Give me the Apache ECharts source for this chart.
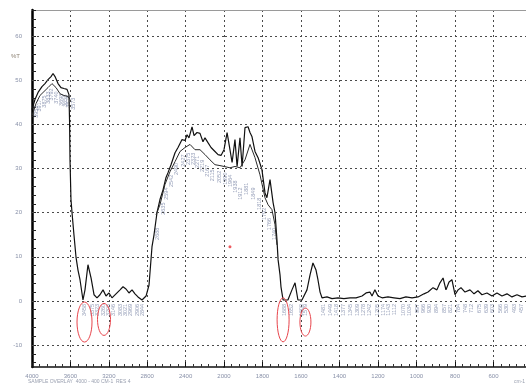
<!DOCTYPE html>
<html>
<head>
<meta charset="utf-8">
<script src="https://cdn.jsdelivr.net/npm/echarts@6/dist/echarts.min.js"></script>
<style>
  html, body { margin: 0; padding: 0; background: #fff; }
  #chart { width: 526px; height: 386px; }
</style>
</head>
<body>
<div id="chart"></div>
<script>
// Overlaid IR spectra, wavenumber (cm-1) against %T.
// The wavenumber scale changes at 2000 cm-1, so the plot is built from two grids.

// y tick labels (%T)
const yTicks = [-10, 0, 10, 20, 30, 40, 50, 60];

// main spectrum
const specWn = [
  4000, 3969, 3937, 3896, 3865, 3833, 3802, 3781, 3760, 3729,
  3698, 3667, 3635, 3615, 3609, 3604, 3594, 3583, 3563, 3542,
  3521, 3500, 3469, 3448, 3417, 3385, 3354, 3323, 3292, 3260,
  3229, 3198, 3167, 3125, 3083, 3052, 3021, 2990, 2958, 2927,
  2896, 2854, 2812, 2781, 2750, 2729, 2698, 2667, 2635, 2604,
  2583, 2552, 2510, 2479, 2437, 2406, 2385, 2365, 2333, 2312,
  2281, 2250, 2219, 2198, 2167, 2135, 2094, 2062, 2031, 2000,
  1984, 1969, 1958, 1943, 1932, 1917, 1906, 1891, 1875, 1865,
  1855, 1839, 1823, 1803, 1787, 1777, 1761, 1745, 1735, 1725,
  1719, 1709, 1704, 1693, 1668, 1647, 1631, 1616, 1595, 1569,
  1553, 1538, 1522, 1512, 1501, 1491, 1465, 1439, 1408, 1377,
  1345, 1314, 1283, 1262, 1242, 1231, 1216, 1200, 1179, 1148,
  1117, 1086, 1055, 1023, 992, 961, 940, 914, 894, 878,
  862, 847, 831, 816, 800, 784, 769, 748, 722, 701,
  681, 660, 634, 608, 582, 556, 530, 504, 478, 452,
  431, 400
];
const specVal = [
  43.4, 45.7, 47.3, 48.6, 49.3, 50.2, 50.9, 51.6, 50.9, 49.3,
  48.4, 48.2, 48.0, 46.8, 41.1, 32.0, 23.0, 20.0, 15.0, 10.0,
  7.0, 4.8, 0.2, 2.5, 8.2, 5.2, 1.4, 0.7, 1.4, 2.5,
  1.1, 1.8, 0.7, 1.6, 2.5, 3.2, 2.7, 1.8, 2.5, 1.6,
  0.9, 0.2, 1.1, 3.6, 12.3, 15.0, 20.0, 23.0, 25.2, 28.0,
  29.1, 30.9, 33.6, 34.8, 36.6, 36.4, 37.7, 37.0, 39.5, 37.5,
  38.2, 38.0, 36.1, 37.0, 35.9, 34.8, 33.9, 33.2, 33.0, 34.3,
  38.2, 34.3, 31.4, 36.6, 30.5, 37.0, 30.5, 39.3, 39.5, 38.2,
  37.3, 33.9, 32.5, 29.8, 24.5, 23.4, 27.5, 22.3, 20.0, 13.9,
  9.3, 5.9, 3.2, 0.2, 0.2, 2.5, 4.1, 0.2, 0.2, 2.5,
  5.9, 8.6, 7.0, 4.8, 2.0, 0.7, 0.9, 0.5, 0.7, 0.5,
  0.7, 0.7, 1.1, 1.8, 2.0, 1.1, 2.5, 1.1, 0.7, 0.9,
  0.7, 0.5, 0.9, 0.7, 0.9, 1.6, 2.0, 3.0, 2.5, 4.1,
  5.2, 2.5, 4.3, 4.8, 1.4, 2.5, 3.0, 2.0, 2.5, 1.6,
  2.3, 1.4, 1.8, 1.1, 1.8, 1.1, 1.6, 0.9, 1.4, 0.9,
  1.1, 0.9
];

// second overlaid trace, O-H band
const bandAWn = [4000, 3958, 3917, 3875, 3833, 3792, 3750, 3708, 3667, 3625, 3604];
const bandAVal = [42.0, 44.8, 46.6, 47.5, 48.4, 49.3, 48.4, 47.0, 46.6, 46.4, 45.7];

// second overlaid trace, broad middle band
const bandBWn = [2708, 2667, 2615, 2563, 2510, 2458, 2406, 2354, 2302, 2250, 2198, 2146, 2094, 2042,
  2000, 1969, 1943, 1917, 1891, 1865, 1839, 1813, 1787, 1771, 1751, 1735, 1725];
const bandBVal = [19.5, 21.8, 26.4, 29.3, 31.6, 33.9, 34.8, 35.5, 34.3, 34.3, 33.2, 32.0, 30.9, 30.7,
  30.5, 30.2, 30.5, 30.2, 32.0, 35.5, 32.5, 28.6, 23.4, 21.8, 20.7, 17.3, 12.7];

// picked peaks (wavenumber, label anchor)
const peakWn = [
  3958, 3917, 3875, 3833, 3792, 3740, 3698, 3656, 3615, 3573,
  3458, 3375, 3323, 3260, 3208, 3146, 3083, 3021, 2969, 2906, 2844,
  2688, 2635, 2594, 2542, 2490, 2427, 2375, 2323, 2271, 2219, 2167, 2115, 2052,
  1990, 1964, 1938, 1912, 1881, 1849, 1818, 1792, 1766, 1740,
  1688, 1652, 1600, 1579, 1481, 1449, 1418, 1377, 1345, 1309,
  1278, 1242, 1205, 1174, 1143, 1112, 1070, 1034, 997, 966,
  930, 894, 857, 821, 784, 748, 712, 675, 639, 603,
  566, 530, 493, 457
];
const peakVal = [
  45.0, 46.4, 47.3, 48.2, 48.9, 48.2, 47.7, 47.5, 47.3, 46.8,
  0, 0, 0, 0, 0, 0, 0, 0, 0, 0, 0,
  17.3, 23.0, 26.4, 29.3, 32.0, 33.9, 34.3, 34.3, 33.6, 32.7, 31.6, 30.5, 30.2,
  29.8, 29.3, 28.0, 26.4, 27.5, 26.4, 24.1, 21.8, 19.5, 17.3,
  0, 0, 0, 0, 0, 0, 0, 0, 0, 0,
  0, 0, 0, 0, 0, 0, 0, 0, 0, 0,
  0, 0, 0, 0, 0, 0, 0, 0, 0, 0,
  0, 0, 0, 0
];

// circled regions (wavenumber, %T)
const noteWn = [3453, 3250, 1693, 1577];
const noteVal = [-4.8, -4.2, -4.3, -4.8];
const noteRx = [7.5, 6.5, 6, 5.5];
const noteRy = [20, 16, 22, 14];

// stray marker
const dotWn = [1969];
const dotVal = [12.3];

const FONT = 'Liberation Sans';
const tickColor = '#8890a8';
const dotted = { type: [2, 3], color: '#4a4a4a', width: 1 };

function pairs(wn, val, keep) {
  const out = [];
  for (let i = 0; i < wn.length; i++) if (keep(wn[i])) out.push([wn[i], val[i]]);
  return out;
}
const hi = w => w >= 2000;
const lo = w => w <= 2000;
const plain = v => String(v);

const yMinor = [];
for (let v = -14; v <= 66; v += 2) yMinor.push(v);

function xAxisFor(gridIndex, min, max, interval, hideMin) {
  return {
    type: 'value', gridIndex, min, max, interval, inverse: true, position: 'bottom',
    axisLine: { show: true, onZero: false, lineStyle: { color: '#111', width: 1.5 } },
    axisTick: { show: true, inside: true, length: 5, lineStyle: { color: '#111' } },
    minorTick: { show: true, splitNumber: 5, length: 3, lineStyle: { color: '#333' } },
    axisLabel: { fontSize: 6, color: tickColor, margin: 6, fontFamily: FONT, formatter: plain, showMinLabel: !hideMin },
    splitLine: { show: true, lineStyle: dotted },
    minorSplitLine: { show: false }
  };
}
function topAxis(gridIndex) {
  return {
    type: 'value', gridIndex, position: 'top',
    axisLine: { show: true, onZero: false, lineStyle: { color: '#9a9a9a', width: 1 } },
    axisTick: { show: false }, axisLabel: { show: false }, splitLine: { show: false }
  };
}
function yAxisFor(gridIndex, visible) {
  return {
    type: 'value', gridIndex, min: -15, max: 66,
    axisLine: { show: visible, onZero: false, lineStyle: { color: '#000', width: 2.5 } },
    axisTick: { show: visible, inside: true, length: 4, customValues: yMinor, lineStyle: { color: '#222' } },
    axisLabel: { show: visible, customValues: yTicks, fontSize: 6, color: tickColor, margin: 10, fontFamily: FONT, formatter: plain },
    splitLine: { show: false }
  };
}
const gridLines = {
  silent: true, symbol: ['none', 'none'], animation: false,
  label: { show: false }, lineStyle: dotted,
  data: yTicks.map(v => ({ yAxis: v }))
};
function spectrum(idx, data, color, width, withGrid) {
  const s = {
    type: 'line', xAxisIndex: idx, yAxisIndex: idx, data,
    showSymbol: false, symbol: 'none', animation: false, z: 3,
    lineStyle: { color, width }
  };
  if (withGrid) s.markLine = gridLines;
  return s;
}
function peakLabels(idx, data) {
  return {
    type: 'scatter', xAxisIndex: idx, yAxisIndex: idx, data, symbolSize: 0,
    animation: false, silent: true, z: 2,
    label: {
      show: true, position: 'bottom', distance: 3, rotate: 90,
      align: 'right', verticalAlign: 'middle',
      fontSize: 5.5, fontFamily: FONT, color: '#7a86a6',
      formatter: p => String(p.value[0])
    }
  };
}

const chart = echarts.init(document.getElementById('chart'), null, { renderer: 'canvas' });
chart.setOption({
  backgroundColor: '#ffffff',
  animation: false,
  grid: [
    { left: 32, width: 192, top: 10, bottom: 19, outerBoundsMode: 'none', containLabel: false },
    { left: 224, width: 308, top: 10, bottom: 19, outerBoundsMode: 'none', containLabel: false }
  ],
  xAxis: [
    xAxisFor(0, 2000, 4000, 400, true),
    xAxisFor(1, 400, 2000, 200, false),
    topAxis(0),
    topAxis(1)
  ],
  yAxis: [yAxisFor(0, true), yAxisFor(1, false)],
  series: [
    spectrum(0, pairs(specWn, specVal, hi), '#111', 1.2, true),
    spectrum(1, pairs(specWn, specVal, lo), '#111', 1.2, true),
    spectrum(0, pairs(bandAWn, bandAVal, hi), '#2a2a2a', 1, false),
    spectrum(0, pairs(bandBWn, bandBVal, hi), '#2a2a2a', 1, false),
    spectrum(1, pairs(bandBWn, bandBVal, lo), '#2a2a2a', 1, false),
    peakLabels(0, pairs(peakWn, peakVal, w => w > 2000)),
    peakLabels(1, pairs(peakWn, peakVal, w => w <= 2000)),
    {
      type: 'scatter', xAxisIndex: 1, yAxisIndex: 1, symbolSize: 3, animation: false,
      itemStyle: { color: '#e8323a' }, data: pairs(dotWn, dotVal, () => true)
    }
  ]
});

// circled regions and captions
const shapes = noteWn.map((w, i) => {
  const g = w >= 2000 ? 0 : 1;
  const [cx, cy] = chart.convertToPixel({ gridIndex: g }, [w, noteVal[i]]);
  return {
    type: 'ellipse', silent: true, z: 10,
    shape: { cx, cy, rx: noteRx[i], ry: noteRy[i] },
    style: { fill: 'none', stroke: '#e8454c', lineWidth: 1 }
  };
});
shapes.push(
  { type: 'text', left: 11, top: 53, style: { text: '%T', fontSize: 6, fill: '#8a7f70', fontFamily: FONT } },
  { type: 'text', left: 28, top: 379, style: { text: 'SAMPLE OVERLAY  4000 - 400 CM-1  RES 4', fontSize: 5, fill: '#9aa0b0', fontFamily: FONT } },
  { type: 'text', left: 514, top: 379, style: { text: 'cm-1', fontSize: 5, fill: '#9aa0b0', fontFamily: FONT } }
);
chart.setOption({ graphic: shapes });
</script>
</body>
</html>
